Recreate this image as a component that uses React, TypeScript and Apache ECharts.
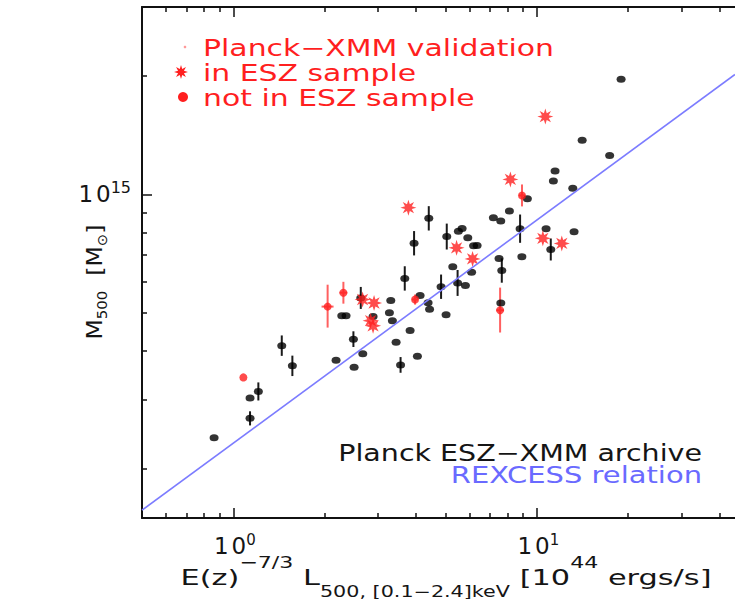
import React, { useEffect, useRef } from 'react';
import * as echarts from 'echarts';

// ---------- axis ranges & ticks ----------
const xRange = [0.5, 45];
const yRange = [1.5e14, 3e15];
const xMajorTicks = [1, 10];
const xMinorTicks = [0.6, 0.7, 0.8, 0.9, 2, 3, 4, 5, 6, 7, 8, 9, 20, 30, 40];
const yMajorTicks = [1e15];
const yMinorTicks = [2e14, 3e14, 4e14, 5e14, 6e14, 7e14, 8e14, 9e14, 2e15];

// ---------- Planck ESZ-XMM archive (black) ----------
// L in 1e44 erg/s, M500 in 1e14 Msun, error half-width in dex (0 = none drawn)
const archiveL = [
  0.864, 1.135, 1.135, 1.209, 1.444, 1.565, 2.18, 2.5, 2.487, 2.277,
  2.352, 2.63, 2.887, 3.303, 3.268, 3.343, 2.67, 3.438, 3.823, 3.557,
  4.042, 4.125, 4.383, 4.433, 4.837, 5.024, 5.286, 5.483, 5.817, 4.406,
  3.941, 3.672, 5.05, 5.516, 5.673, 5.924, 6.19, 6.357, 6.097, 7.194,
  7.609, 8.124, 7.51, 7.668, 7.61, 8.81, 9.31, 8.93, 10.73, 11.12,
  13.27, 13.14, 11.34, 11.49, 14.11, 17.38, 18.96,
];
const archiveM14 = [
  2.4, 2.69, 3.03, 3.15, 4.12, 3.66, 3.78, 3.63, 4.28, 4.91,
  4.91, 5.45, 4.89, 5.37, 5.0, 4.77, 3.93, 4.2, 4.5, 3.68,
  3.87, 5.53, 5.3, 5.1, 5.82, 4.94, 6.54, 5.95, 5.86, 8.69,
  7.51, 6.11, 7.81, 8.06, 8.19, 7.76, 7.4, 7.41, 6.34, 8.72,
  8.55, 9.07, 6.87, 6.4, 5.29, 8.18, 9.75, 6.94, 8.18, 7.24,
  8.03, 10.36, 10.81, 11.47, 13.73, 12.57, 19.65,
];
const archiveErrDex = [
  0, 0.018, 0, 0.023, 0.026, 0.026, 0, 0, 0.02, 0,
  0, 0.028, 0, 0, 0, 0, 0, 0, 0, 0.02,
  0, 0, 0, 0, 0.031, 0, 0, 0.033, 0, 0.031,
  0.031, 0.031, 0.033, 0, 0, 0, 0, 0, 0, 0,
  0, 0, 0, 0.031, 0, 0.036, 0, 0, 0, 0.028,
  0, 0, 0, 0, 0, 0, 0,
];

// ---------- Planck-XMM validation, in ESZ sample (red stars) ----------
const eszL = [3.775, 2.666, 2.909, 2.833, 2.887, 5.441, 6.143, 8.185, 10.67, 10.47, 12.09];
const eszM14 = [9.25, 5.4, 5.29, 4.77, 4.63, 7.31, 6.85, 10.92, 15.78, 7.73, 7.5];

// ---------- Planck-XMM validation, not in ESZ sample (red dots) ----------
const nonEszL = [1.079, 2.045, 2.305, 3.971, 8.94, 7.57];
const nonEszM14 = [3.42, 5.18, 5.62, 5.4, 9.94, 5.07];
const nonEszMLo14 = [null, 4.58, 5.27, 5.24, 9.32, 4.45];
const nonEszMHi14 = [null, 5.89, 5.99, 5.56, 10.6, 5.79];
const nonEszLLo = [null, 1.953, 2.237, 3.88, 8.74, 7.35];
const nonEszLHi = [null, 2.139, 2.375, 4.06, 9.14, 7.8];

// ---------- REXCESS relation (end points) ----------
const rexcessL = [0.5, 45];
const rexcessM14 = [1.57, 20.2];

const FONT = 'DejaVu Sans';
const RED = '#ff1f1f';
const BLUE = '#6a6aff';
const INK = '#151515';

const starPoints = (cx: number, cy: number, R: number, r: number) => {
  const pts: number[][] = [];
  for (let i = 0; i < 16; i++) {
    const rad = i % 2 === 0 ? R : r;
    const a = (i * Math.PI) / 8 - Math.PI / 2;
    pts.push([cx + rad * Math.cos(a), cy + rad * Math.sin(a)]);
  }
  return pts;
};
const starPath =
  'path://M' + starPoints(10, 10, 10, 4.6).map((p) => p[0].toFixed(2) + ',' + p[1].toFixed(2)).join('L') + 'Z';
const ellipsePath = 'path://M0,5A5,5 0 1,1 10,5A5,5 0 1,1 0,5Z';

const errRender = (color: string, width: number) => (params: any, api: any) => {
  const x = api.value(0);
  const y = api.value(1);
  const lo = api.coord([x, api.value(2)]);
  const hi = api.coord([x, api.value(3)]);
  const l = api.coord([api.value(4), y]);
  const r = api.coord([api.value(5), y]);
  const children: any[] = [
    { type: 'line', shape: { x1: lo[0], y1: lo[1], x2: hi[0], y2: hi[1] }, style: { stroke: color, lineWidth: width } },
  ];
  if (r[0] - l[0] > 0.5) {
    children.push({ type: 'line', shape: { x1: l[0], y1: l[1], x2: r[0], y2: r[1] }, style: { stroke: color, lineWidth: width } });
  }
  return { type: 'group', children };
};

const archiveErrData = archiveL
  .map((l, i) => {
    const m = archiveM14[i] * 1e14;
    const e = archiveErrDex[i];
    return e > 0 ? [l, m, m / Math.pow(10, e), m * Math.pow(10, e), l, l] : null;
  })
  .filter((d) => d !== null);

const nonEszErrData = nonEszL
  .map((l, i) =>
    nonEszMLo14[i] === null
      ? null
      : [l, nonEszM14[i] * 1e14, (nonEszMLo14[i] as number) * 1e14, (nonEszMHi14[i] as number) * 1e14, nonEszLLo[i], nonEszLHi[i]]
  )
  .filter((d) => d !== null);

const tickLine = { color: '#111', width: 1.5 };
const axisLine = { show: true, onZero: false, lineStyle: { color: '#111', width: 2 } };

const xBase = { type: 'log', logBase: 10, min: xRange[0], max: xRange[1], splitLine: { show: false } };
const yBase = { type: 'log', logBase: 10, min: yRange[0], max: yRange[1], splitLine: { show: false } };

const option: any = {
  animation: false,
  backgroundColor: '#ffffff',
  grid: { left: 142, right: 0, top: 7, bottom: 81, outerBoundsMode: 'none' },
  xAxis: [
    {
      ...xBase,
      position: 'bottom',
      axisLine,
      axisTick: { show: true, inside: true, length: 10, customValues: xMajorTicks, lineStyle: tickLine },
      axisLabel: {
        show: true,
        customValues: xMajorTicks,
        margin: 14,
        formatter: (v: number) => '{b|1}{b|0}{s|' + Math.round(Math.log10(v)) + '}',
        rich: {
          b: { fontSize: 23, fontFamily: FONT, color: INK, lineHeight: 28, verticalAlign: 'middle', padding: [0, 0, 0, 3] },
          s: { fontSize: 15, fontFamily: FONT, color: INK, lineHeight: 17, verticalAlign: 'top' },
        },
      },
    },
    {
      ...xBase,
      position: 'bottom',
      axisLine: { show: false, onZero: false },
      axisTick: { show: true, inside: true, length: 5, customValues: xMinorTicks, lineStyle: tickLine },
      axisLabel: { show: false },
    },
    {
      ...xBase,
      position: 'top',
      axisLine,
      axisTick: { show: true, inside: true, length: 10, customValues: xMajorTicks, lineStyle: tickLine },
      axisLabel: { show: false },
    },
    {
      ...xBase,
      position: 'top',
      axisLine: { show: false, onZero: false },
      axisTick: { show: true, inside: true, length: 5, customValues: xMinorTicks, lineStyle: tickLine },
      axisLabel: { show: false },
    },
  ],
  yAxis: [
    {
      ...yBase,
      position: 'left',
      axisLine,
      axisTick: { show: true, inside: true, length: 10, customValues: yMajorTicks, lineStyle: tickLine },
      axisLabel: {
        show: true,
        customValues: yMajorTicks,
        margin: 11,
        formatter: (v: number) => '{b|1}{b|0}{s|' + Math.round(Math.log10(v)) + '}',
        rich: {
          b: { fontSize: 23, fontFamily: FONT, color: INK, lineHeight: 30, verticalAlign: 'middle', padding: [0, 0, 0, 3] },
          s: { fontSize: 16, fontFamily: FONT, color: INK, lineHeight: 14, verticalAlign: 'top' },
        },
      },
    },
    {
      ...yBase,
      position: 'left',
      axisLine: { show: false, onZero: false },
      axisTick: { show: true, inside: true, length: 5, customValues: yMinorTicks, lineStyle: tickLine },
      axisLabel: { show: false },
    },
  ],
  series: [
    {
      type: 'line',
      xAxisIndex: 0,
      yAxisIndex: 0,
      data: rexcessL.map((l, i) => [l, rexcessM14[i] * 1e14]),
      symbol: 'none',
      lineStyle: { color: '#7c7cff', width: 1.6 },
      silent: true,
    },
    {
      type: 'custom',
      xAxisIndex: 0,
      yAxisIndex: 0,
      renderItem: errRender('#1a1a1a', 2),
      data: archiveErrData,
      silent: true,
    },
    {
      type: 'scatter',
      xAxisIndex: 0,
      yAxisIndex: 0,
      data: archiveL.map((l, i) => [l, archiveM14[i] * 1e14]),
      symbol: ellipsePath,
      symbolSize: [9, 7],
      itemStyle: { color: '#000' },
      silent: true,
    },
    {
      type: 'custom',
      xAxisIndex: 0,
      yAxisIndex: 0,
      renderItem: errRender('#ff6060', 2),
      data: nonEszErrData,
      silent: true,
    },
    {
      type: 'scatter',
      xAxisIndex: 0,
      yAxisIndex: 0,
      data: nonEszL.map((l, i) => [l, nonEszM14[i] * 1e14]),
      symbol: 'circle',
      symbolSize: 8,
      itemStyle: { color: RED },
      silent: true,
    },
    {
      type: 'scatter',
      xAxisIndex: 0,
      yAxisIndex: 0,
      data: eszL.map((l, i) => [l, eszM14[i] * 1e14]),
      symbol: starPath,
      symbolSize: 16,
      itemStyle: { color: RED },
      silent: true,
    },
  ],
  graphic: [
    // legend
    { type: 'circle', shape: { cx: 185, cy: 47, r: 1.3 }, style: { fill: '#ff9a9a' } },
    { type: 'polygon', shape: { points: starPoints(181, 72, 7, 3.2) }, style: { fill: RED } },
    { type: 'circle', shape: { cx: 183, cy: 97, r: 5 }, style: { fill: RED } },
    {
      type: 'text', x: 203, y: 48, scaleX: 1.3,
      style: { text: 'Planck\u2212XMM validation', fontSize: 23, fontFamily: FONT, fill: RED, align: 'left', verticalAlign: 'middle' },
    },
    {
      type: 'text', x: 203, y: 72.5, scaleX: 1.3,
      style: { text: 'in ESZ sample', fontSize: 23, fontFamily: FONT, fill: RED, align: 'left', verticalAlign: 'middle' },
    },
    {
      type: 'text', x: 203, y: 97.5, scaleX: 1.3,
      style: { text: 'not in ESZ sample', fontSize: 23, fontFamily: FONT, fill: RED, align: 'left', verticalAlign: 'middle' },
    },
    // annotations
    {
      type: 'text', x: 702, y: 453, scaleX: 1.24,
      style: { text: 'Planck ESZ\u2212XMM archive', fontSize: 23, fontFamily: FONT, fill: INK, align: 'right', verticalAlign: 'middle' },
    },
    {
      type: 'text', x: 702, y: 475.5, scaleX: 1.26,
      style: { text: 'REXCESS relation', fontSize: 23, fontFamily: FONT, fill: BLUE, align: 'right', verticalAlign: 'middle' },
    },
    // x axis title
    {
      type: 'text', x: 446, y: 577, scaleX: 1.38,
      style: {
        text: '{m|E(z)}{sup|\u22127/3}{m| L}{sub|500, [0.1\u22122.4]keV}{m| [10}{sup|44}{m| ergs/s]}',
        align: 'center', verticalAlign: 'middle',
        rich: {
          m: { fontSize: 22, fontFamily: FONT, fill: INK, lineHeight: 44, verticalAlign: 'middle' },
          sup: { fontSize: 16, fontFamily: FONT, fill: INK, lineHeight: 18, verticalAlign: 'top' },
          sub: { fontSize: 15, fontFamily: FONT, fill: INK, lineHeight: 31, verticalAlign: 'bottom' },
        },
      },
    },
    // y axis title
    {
      type: 'text', x: 94, y: 282, rotation: Math.PI / 2, scaleX: 1.07,
      style: {
        text: '{m|M}{sub|500}{m|  [M}{sub|\u2299}{m|]}',
        align: 'center', verticalAlign: 'middle',
        rich: {
          m: { fontSize: 22, fontFamily: FONT, fill: INK, lineHeight: 30, verticalAlign: 'middle' },
          sub: { fontSize: 14, fontFamily: FONT, fill: INK, lineHeight: 20, verticalAlign: 'bottom' },
        },
      },
    },
  ],
};

export default function App() {
  const ref = useRef<HTMLDivElement>(null);
  useEffect(() => {
    const chart = echarts.init(ref.current as HTMLDivElement, null, { renderer: 'svg' });
    chart.setOption(option);
    return () => chart.dispose();
  }, []);
  return (
    <div
      ref={ref}
      style={{ position: 'fixed', left: 0, top: 0, width: 735, height: 599, background: '#fff' }}
    />
  );
}
